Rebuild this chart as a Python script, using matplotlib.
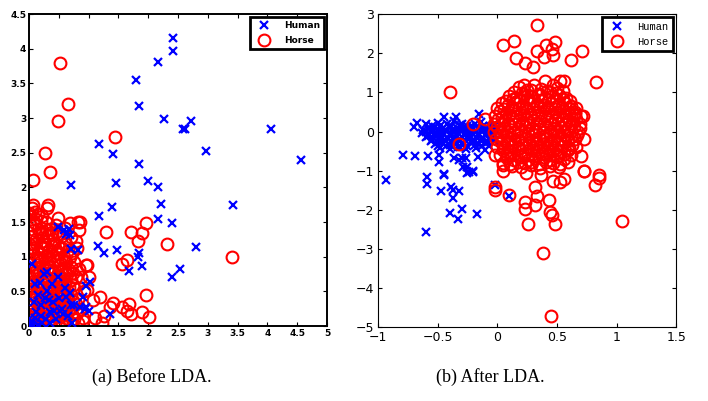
import numpy as np
import matplotlib.pyplot as plt

# ---- data ----
# (a) before LDA, human
before_human_x = [2.42, 2.41, 2.16, 1.80, 1.85, 2.27, 2.71, 2.58, 2.62, 4.06, 4.57, 2.97,
                  1.17, 1.41, 1.85, 1.46, 1.99, 2.17, 0.71, 3.42, 2.21, 1.40, 1.17, 2.16,
                  2.39, 2.80, 1.15, 1.26, 1.48, 1.85, 1.83, 1.90, 1.68, 2.54, 2.40, 0.67,
                  0.69, 0.71, 0.82, 1.02, 0.95, 0.91, 0.94, 0.85, 0.95, 1.00, 0.75, 1.36,
                  0.49, 0.58, 0.62,
                  0.00, 0.02, 0.01, 0.04, 0.05, 0.10, 0.15, 0.20, 0.25, 0.30, 0.35, 0.40,
                  0.45, 0.50, 0.55, 0.60, 0.65, 0.70, 0.30, 0.28, 0.12, 0.08, 0.18, 0.38,
                  0.48, 0.62, 0.72, 0.10, 0.22, 0.33, 0.42, 0.57, 0.68, 0.15,
                  0.01, 0.03, 0.00, 0.06, 0.20, 0.26, 0.36, 0.52]
before_human_y = [4.15, 3.96, 3.81, 3.55, 3.17, 2.99, 2.96, 2.84, 2.84, 2.84, 2.39, 2.53,
                  2.63, 2.48, 2.33, 2.06, 2.09, 2.01, 2.04, 1.75, 1.76, 1.71, 1.59, 1.54,
                  1.48, 1.14, 1.15, 1.06, 1.09, 1.06, 1.00, 0.87, 0.79, 0.82, 0.71, 1.40,
                  1.31, 1.11, 1.09, 0.64, 0.57, 0.42, 0.25, 0.28, 0.28, 0.22, 0.30, 0.18,
                  1.43, 1.38, 1.32,
                  0.00, 0.02, 0.06, 0.03, 0.90, 0.60, 0.45, 0.30, 0.75, 0.50, 0.20, 0.35,
                  0.10, 0.40, 0.25, 0.55, 0.15, 0.30, 0.78, 0.10, 0.20, 0.35, 0.62, 0.60,
                  0.70, 0.42, 0.05, 0.12, 0.05, 0.38, 0.22, 0.18, 0.48, 0.02,
                  0.04, 0.01, 0.10, 0.00, 0.15, 0.40, 0.05, 0.22]

# (a) before LDA, horse
before_horse_x = [0.52, 0.65, 0.48, 1.45, 0.27, 0.35, 0.07, 0.32, 0.07, 0.00, 0.49, 0.86,
                  0.83, 1.29, 1.71, 1.89, 1.96, 1.82, 2.32, 3.40, 1.56, 1.64, 0.98, 1.96,
                  1.00, 0.98, 1.19, 1.08, 1.41, 1.35, 1.56, 1.68, 1.64, 1.71, 1.89, 2.01,
                  1.26, 1.11, 0.90, 1.23, 0.82,
                  0.05, 0.15, 0.22, 0.30, 0.12,
                  0.02, 0.10, 0.20, 0.28, 0.35, 0.45, 0.60, 0.68,
                  0.05, 0.12, 0.18, 0.25, 0.32, 0.40, 0.50, 0.60, 0.70, 0.78,
                  0.02, 0.08, 0.15, 0.22, 0.30, 0.38, 0.45, 0.52, 0.58, 0.65, 0.72, 0.80,
                  0.03, 0.10, 0.17, 0.24, 0.30, 0.36, 0.42, 0.50, 0.56, 0.62, 0.70, 0.76, 0.84,
                  0.02, 0.08, 0.14, 0.20, 0.26, 0.33, 0.40, 0.46, 0.52, 0.58, 0.64, 0.70, 0.78,
                  0.04, 0.10, 0.16, 0.22, 0.28, 0.34, 0.40, 0.46, 0.52, 0.58, 0.64, 0.70, 0.76,
                  0.03, 0.09, 0.15, 0.21, 0.27, 0.33, 0.39, 0.45, 0.51, 0.57, 0.63, 0.70, 0.78, 0.86,
                  0.02, 0.08, 0.14, 0.20, 0.26, 0.32, 0.38, 0.44, 0.50, 0.56, 0.62, 0.68, 0.75, 0.82, 0.90,
                  0.92, 0.88, 0.95, 0.06, 0.18, 0.36, 0.55, 0.14, 0.43,
                  0.00, 0.10, 0.20,
                  0.08, 0.15, 0.22, 0.30, 0.38, 0.46, 0.55,
                  0.00, 0.06, 0.12, 0.20, 0.27, 0.34, 0.42, 0.48, 0.55, 0.62,
                  0.06, 0.13, 0.20, 0.27, 0.34, 0.40, 0.47, 0.54, 0.60, 0.68,
                  0.05, 0.11, 0.17, 0.23, 0.30, 0.36, 0.43, 0.49, 0.55, 0.61, 0.67, 0.74,
                  0.01, 0.07, 0.13, 0.19, 0.25, 0.31, 0.37, 0.43, 0.49, 0.55, 0.61, 0.67, 0.73,
                  0.06, 0.12, 0.18, 0.24, 0.30, 0.36, 0.42, 0.48, 0.54, 0.60, 0.66, 0.74, 0.82,
                  0.05, 0.11, 0.17, 0.23, 0.29, 0.35, 0.41, 0.47, 0.53, 0.59, 0.65, 0.72, 0.80]
before_horse_y = [3.80, 3.20, 2.96, 2.73, 2.49, 2.22, 2.10, 1.75, 1.75, 1.63, 1.56, 1.50,
                  1.39, 1.36, 1.35, 1.34, 1.48, 1.23, 1.18, 1.00, 0.90, 0.95, 0.88, 0.45,
                  0.71, 0.52, 0.42, 0.38, 0.33, 0.28, 0.28, 0.32, 0.21, 0.17, 0.20, 0.13,
                  0.14, 0.11, 0.07, 0.05, 1.50,
                  1.70, 1.62, 1.58, 1.70, 1.55,
                  1.45, 1.48, 1.42, 1.50, 1.40, 1.45, 1.42, 1.48,
                  1.30, 1.25, 1.35, 1.22, 1.30, 1.25, 1.32, 1.20, 1.28, 1.22,
                  1.10, 1.18, 1.05, 1.12, 1.02, 1.15, 1.05, 1.12, 1.00, 1.10, 1.05, 1.12,
                  0.90, 0.85, 0.95, 0.82, 0.92, 0.85, 0.95, 0.88, 0.82, 0.93, 0.85, 0.92, 0.82,
                  0.70, 0.65, 0.75, 0.62, 0.72, 0.66, 0.78, 0.64, 0.72, 0.62, 0.75, 0.66, 0.70,
                  0.50, 0.42, 0.55, 0.45, 0.52, 0.42, 0.58, 0.48, 0.56, 0.44, 0.52, 0.45, 0.55,
                  0.30, 0.25, 0.35, 0.22, 0.32, 0.25, 0.36, 0.28, 0.34, 0.22, 0.30, 0.25, 0.32, 0.25,
                  0.10, 0.05, 0.15, 0.04, 0.12, 0.06, 0.16, 0.05, 0.13, 0.04, 0.12, 0.06, 0.10, 0.05, 0.12,
                  0.50, 0.70, 0.88, 0.02, 0.01, 0.02, 0.01, 0.58, 0.18,
                  1.60, 1.65, 1.52,
                  1.38, 1.40, 1.32, 1.38, 1.33, 1.36, 1.30,
                  1.18, 1.12, 1.20, 1.15, 1.18, 1.10, 1.20, 1.15, 1.12, 1.18,
                  0.97, 1.00, 0.94, 0.99, 0.96, 1.01, 0.95, 0.98, 0.94, 0.99,
                  0.77, 0.80, 0.75, 0.78, 0.82, 0.76, 0.79, 0.74, 0.80, 0.77, 0.81, 0.76,
                  0.57, 0.60, 0.55, 0.58, 0.62, 0.56, 0.59, 0.54, 0.60, 0.57, 0.61, 0.56, 0.59,
                  0.37, 0.40, 0.35, 0.38, 0.42, 0.36, 0.39, 0.34, 0.40, 0.37, 0.41, 0.36, 0.39,
                  0.18, 0.20, 0.16, 0.19, 0.22, 0.17, 0.20, 0.15, 0.21, 0.18, 0.22, 0.17, 0.19]

# (b) after LDA, human
after_human_x = [-0.93, -0.59, -0.59, -0.45, -0.25, -0.20, -0.47, -0.39, -0.37, -0.32,
                 -0.37, -0.40, -0.33, -0.30, -0.17, -0.60, -0.02, 0.10,
                 -0.70, -0.67, -0.60, -0.79, -0.69, -0.58, -0.49, -0.49, -0.32, -0.26,
                 -0.24, -0.20, -0.45, -0.35, -0.15, -0.53, -0.45, -0.36, -0.30, -0.29,
                 -0.25, -0.16,
                 -0.50, -0.42, -0.36, -0.30, -0.22, -0.14,
                 -0.58, -0.52, -0.46, -0.40, -0.34, -0.28, -0.22, -0.16, -0.10, -0.04,
                 -0.60, -0.54, -0.48, -0.42, -0.36, -0.30, -0.24, -0.18, -0.12, -0.06, -0.01,
                 -0.58, -0.52, -0.46, -0.40, -0.34, -0.28, -0.22, -0.16, -0.10, -0.04,
                 -0.55, -0.49, -0.43, -0.37, -0.31, -0.25, -0.19, -0.13, -0.07, -0.02,
                 -0.52, -0.46, -0.40, -0.34, -0.28, -0.22, -0.16, -0.10,
                 -0.48, -0.40, -0.33, -0.26, -0.18, -0.10,
                 -0.55, -0.47, -0.39, -0.31, -0.25, -0.19, -0.12, -0.06, -0.02,
                 -0.62, -0.56, -0.50, -0.44, -0.38, -0.32, -0.26, -0.20, -0.14, -0.08, -0.03,
                 -0.63, -0.57, -0.51, -0.45, -0.39, -0.33, -0.27, -0.21, -0.15, -0.09, -0.03,
                 -0.60, -0.54, -0.48, -0.42, -0.36, -0.30, -0.24, -0.18, -0.12, -0.06,
                 -0.56, -0.50, -0.44, -0.38, -0.32, -0.26, -0.20, -0.14, -0.08, -0.03,
                 -0.50, -0.43, -0.37, -0.31, -0.25, -0.19, -0.13, -0.07]
after_human_y = [-1.23, -1.16, -1.33, -1.09, -1.06, -1.04, -1.52, -1.43, -1.50, -1.52,
                 -1.71, -2.08, -2.25, -1.99, -2.10, -2.57, -1.38, -1.66,
                 0.12, 0.22, 0.20, -0.59, -0.62, -0.62, -0.61, -0.78, -0.73, -0.68,
                 -1.03, -1.00, 0.37, 0.38, 0.44, -0.10, -1.12, -0.68, -0.68, -0.90,
                 -0.90, -0.66,
                 0.22, 0.18, 0.26, 0.20, 0.15, 0.24,
                 0.08, 0.12, 0.06, 0.14, 0.09, 0.12, 0.05, 0.10, 0.07, 0.11,
                 -0.02, 0.01, -0.04, 0.02, -0.01, 0.03, -0.03, 0.00, 0.02, -0.02, 0.01,
                 -0.12, -0.08, -0.14, -0.09, -0.11, -0.07, -0.13, -0.10, -0.08, -0.12,
                 -0.22, -0.18, -0.24, -0.19, -0.21, -0.17, -0.23, -0.20, -0.18, -0.22,
                 -0.32, -0.28, -0.34, -0.29, -0.31, -0.27, -0.33, -0.30,
                 -0.42, -0.45, -0.40, -0.44, -0.41, -0.46,
                 0.15, 0.17, 0.14, 0.16, 0.13, 0.18, 0.15, 0.14, 0.16,
                 0.05, 0.04, 0.06, 0.03, 0.05, 0.07, 0.04, 0.06, 0.03, 0.05, 0.04,
                 -0.05, -0.06, -0.04, -0.07, -0.05, -0.03, -0.06, -0.04, -0.07, -0.05, -0.06,
                 -0.15, -0.16, -0.14, -0.17, -0.15, -0.13, -0.16, -0.14, -0.17, -0.15,
                 -0.25, -0.26, -0.24, -0.27, -0.25, -0.23, -0.26, -0.24, -0.27, -0.25,
                 -0.37, -0.38, -0.36, -0.39, -0.37, -0.35, -0.38, -0.36]

# (b) after LDA, horse
after_horse_x = [0.33, 0.05, 0.14, 0.16, 0.23, 0.30, 0.33, 0.39, 0.41, 0.48, 0.46, 0.47,
                 0.62, 0.71, 0.83, -0.40, 0.40, 0.47, 0.53, 0.56, 0.22, 0.65, 0.72,
                 0.69, 0.73, 0.70, 0.73, 0.85, -0.32, -0.20, -0.10, -0.02, 0.05,
                 1.05, 0.45, 0.38, 0.26, 0.48, 0.46, 0.44, 0.43, 0.23, 0.23, 0.32,
                 0.33, 0.32, 0.10, -0.02, -0.02, 0.47, 0.53, 0.56, 0.82, 0.85, 0.73,
                 0.24, 0.37, 0.05,
                 0.18, 0.25, 0.31, 0.37, 0.44, 0.50,
                 0.10, 0.16, 0.22, 0.28, 0.34, 0.40, 0.46, 0.52, 0.58,
                 0.04, 0.09, 0.15, 0.21, 0.27, 0.33, 0.39, 0.45, 0.51, 0.57, 0.62,
                 0.02, 0.07, 0.13, 0.19, 0.25, 0.31, 0.37, 0.43, 0.49, 0.55, 0.60, 0.65,
                 0.01, 0.06, 0.12, 0.18, 0.24, 0.30, 0.36, 0.42, 0.48, 0.54, 0.60, 0.66,
                 0.00, 0.05, 0.11, 0.17, 0.23, 0.29, 0.35, 0.41, 0.47, 0.53, 0.59, 0.64,
                 0.02, 0.08, 0.14, 0.20, 0.26, 0.32, 0.38, 0.44, 0.50, 0.56, 0.62, 0.67,
                 0.03, 0.09, 0.15, 0.21, 0.27, 0.33, 0.39, 0.45, 0.51, 0.57, 0.63,
                 0.05, 0.11, 0.17, 0.23, 0.29, 0.35, 0.41, 0.47, 0.53, 0.59,
                 0.08, 0.14, 0.20, 0.26, 0.32, 0.38, 0.44, 0.50, 0.56,
                 0.12, 0.20, 0.28, 0.36, 0.44, 0.52,
                 0.14, 0.21, 0.28, 0.35, 0.42, 0.49, 0.55,
                 0.07, 0.13, 0.19, 0.25, 0.31, 0.37, 0.43, 0.49, 0.55, 0.61,
                 0.00, 0.06, 0.12, 0.18, 0.24, 0.30, 0.36, 0.42, 0.48, 0.54, 0.60, 0.66,
                 -0.02, 0.04, 0.10, 0.16, 0.22, 0.28, 0.34, 0.40, 0.46, 0.52, 0.58, 0.64, 0.70,
                 -0.03, 0.03, 0.09, 0.15, 0.21, 0.27, 0.33, 0.39, 0.45, 0.51, 0.57, 0.63, 0.69,
                 -0.03, 0.03, 0.08, 0.14, 0.20, 0.26, 0.32, 0.38, 0.44, 0.50, 0.56, 0.62, 0.68,
                 -0.01, 0.05, 0.11, 0.17, 0.23, 0.29, 0.35, 0.41, 0.47, 0.53, 0.59, 0.65,
                 0.00, 0.06, 0.12, 0.18, 0.24, 0.30, 0.36, 0.42, 0.48, 0.54, 0.60, 0.66,
                 0.02, 0.08, 0.14, 0.20, 0.26, 0.32, 0.38, 0.44, 0.50, 0.56, 0.62,
                 0.05, 0.11, 0.17, 0.23, 0.29, 0.35, 0.41, 0.47, 0.53, 0.59]
after_horse_y = [2.72, 2.22, 2.31, 1.89, 1.76, 1.65, 2.05, 1.90, 2.22, 2.30, 2.10, 1.97,
                 1.82, 2.05, 1.27, 1.02, 1.30, 1.20, 1.28, 1.30, 1.20, 0.46, 0.39,
                 0.10, -0.20, -0.63, -1.00, -1.12, -0.32, 0.20, 0.32, -0.60, -0.85,
                 -2.30, -4.72, -3.10, -2.37, -2.37, -2.14, -2.05, -1.76, -1.97, -1.80, -1.89,
                 -1.65, -1.41, -1.63, -1.49, -1.42, -1.27, -1.30, -1.22, -1.37, -1.18, -1.00,
                 -1.07, -1.11, -1.02,
                 1.15, 1.05, 1.20, 1.10, 1.00, 1.12,
                 0.92, 0.86, 0.95, 0.88, 0.93, 0.85, 0.90, 0.94, 0.87,
                 0.72, 0.68, 0.75, 0.66, 0.73, 0.70, 0.67, 0.74, 0.69, 0.72, 0.66,
                 0.52, 0.48, 0.55, 0.46, 0.53, 0.50, 0.47, 0.54, 0.49, 0.52, 0.46, 0.51,
                 0.32, 0.28, 0.35, 0.26, 0.33, 0.30, 0.27, 0.34, 0.29, 0.32, 0.26, 0.31,
                 0.12, 0.08, 0.15, 0.06, 0.13, 0.10, 0.07, 0.14, 0.09, 0.12, 0.06, 0.11,
                 -0.08, -0.12, -0.05, -0.14, -0.07, -0.10, -0.13, -0.06, -0.11, -0.08, -0.14, -0.09,
                 -0.28, -0.32, -0.25, -0.34, -0.27, -0.30, -0.33, -0.26, -0.31, -0.28, -0.34,
                 -0.48, -0.52, -0.45, -0.54, -0.47, -0.50, -0.53, -0.46, -0.51, -0.48,
                 -0.68, -0.72, -0.65, -0.74, -0.67, -0.70, -0.73, -0.66, -0.71,
                 -0.88, -0.92, -0.85, -0.94, -0.87, -0.90,
                 1.02, 0.98, 1.05, 0.97, 1.03, 0.99, 1.04,
                 0.78, 0.82, 0.79, 0.83, 0.77, 0.81, 0.80, 0.78, 0.82, 0.79,
                 0.60, 0.58, 0.62, 0.59, 0.61, 0.57, 0.63, 0.60, 0.58, 0.62, 0.59, 0.61,
                 0.40, 0.38, 0.42, 0.39, 0.41, 0.37, 0.43, 0.40, 0.38, 0.42, 0.39, 0.41, 0.40,
                 0.20, 0.18, 0.22, 0.19, 0.21, 0.17, 0.23, 0.20, 0.18, 0.22, 0.19, 0.21, 0.20,
                 0.00, -0.02, 0.02, -0.01, 0.01, -0.03, 0.03, 0.00, -0.02, 0.02, -0.01, 0.01, 0.00,
                 -0.20, -0.22, -0.18, -0.21, -0.19, -0.23, -0.17, -0.20, -0.22, -0.18, -0.21, -0.19,
                 -0.40, -0.42, -0.38, -0.41, -0.39, -0.43, -0.37, -0.40, -0.42, -0.38, -0.41, -0.39,
                 -0.60, -0.62, -0.58, -0.61, -0.59, -0.63, -0.57, -0.60, -0.62, -0.58, -0.61,
                 -0.80, -0.82, -0.78, -0.81, -0.79, -0.83, -0.77, -0.80, -0.82, -0.78]

fig = plt.figure(figsize=(7.08, 4.01), dpi=100)

#Left panel - before LDA (humans drawn above the horse circles here)
ax1 = fig.add_axes([0.041, 0.187, 0.421, 0.778])
ax1.plot(before_human_x, before_human_y, 'x', color='blue', ms=6, mew=1.6,
         label='Human', zorder=3)
ax1.plot(before_horse_x, before_horse_y, 'o', color='red', mfc='none', ms=8.5, mew=1.5,
         label='Horse', zorder=2)
ax1.set_xlim(0, 5)
ax1.set_ylim(0, 4.5)
ax1.set_xticks(np.arange(0, 5.01, 0.5))
ax1.set_yticks(np.arange(0, 4.51, 0.5))
ax1.set_xticklabels(['0', '0.5', '1', '1.5', '2', '2.5', '3', '3.5', '4', '4.5', '5'])
ax1.set_yticklabels(['0', '0.5', '1', '1.5', '2', '2.5', '3', '3.5', '4', '4.5'])
ax1.tick_params(direction='in', top=True, right=True, length=3, labelsize=6.5, pad=2)
for lab in ax1.get_xticklabels() + ax1.get_yticklabels():
    lab.set_fontweight('bold')
for sp in ax1.spines.values():
    sp.set_linewidth(1.4)
leg1 = ax1.legend(loc='upper right', fancybox=False, framealpha=1,
                  edgecolor='black', borderpad=0.5, handletextpad=1.2, labelspacing=0.6,
                  prop={'weight': 'bold', 'size': 6.5}, borderaxespad=0.3)
leg1.get_frame().set_linewidth(2)

#Right panel - after LDA
ax2 = fig.add_axes([0.534, 0.1845, 0.421, 0.78])
ax2.plot(after_human_x, after_human_y, 'x', color='blue', ms=6, mew=1.6, label='Human')
ax2.plot(after_horse_x, after_horse_y, 'o', color='red', mfc='none', ms=8.5, mew=1.5, label='Horse')
ax2.set_xlim(-1, 1.5)
ax2.set_ylim(-5, 3)
ax2.set_xticks([-1, -0.5, 0, 0.5, 1, 1.5])
ax2.set_xticklabels(['\u22121', '\u22120.5', '0', '0.5', '1', '1.5'])
ax2.set_yticks(np.arange(-5, 3.01, 1))
ax2.tick_params(direction='in', top=True, right=True, length=3, labelsize=9, pad=3)
for sp in ax2.spines.values():
    sp.set_linewidth(0.8)
leg2 = ax2.legend(loc='upper right', fancybox=False, framealpha=1, edgecolor='black',
                  borderpad=0.4, handletextpad=1.0, labelspacing=0.5, borderaxespad=0.3,
                  prop={'family': 'Liberation Mono', 'size': 7.5})
leg2.get_frame().set_linewidth(2)

fig.text(0.215, 0.06, '(a) Before LDA.', ha='center', va='center',
         family='Liberation Serif', fontsize=13)
fig.text(0.692, 0.06, '(b) After LDA.', ha='center', va='center',
         family='Liberation Serif', fontsize=13)

fig.savefig('out.png', dpi=100)
